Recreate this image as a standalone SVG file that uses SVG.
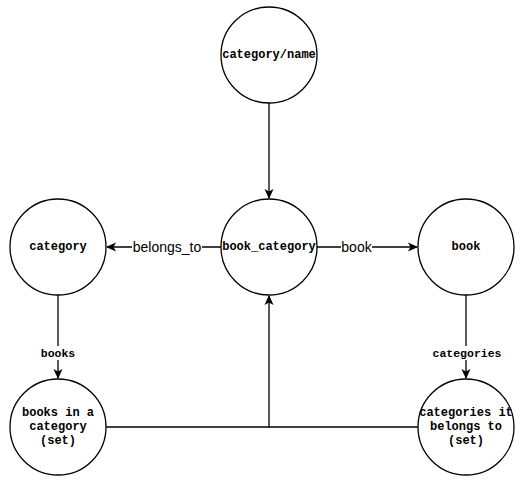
<svg xmlns="http://www.w3.org/2000/svg" width="523" height="485" viewBox="0 0 523 485">
<style>
.n{fill:#fff;stroke:#000;stroke-width:1.3}
.t{font-family:"Liberation Mono","Courier New",monospace;font-weight:bold;font-size:12px;text-anchor:middle;dominant-baseline:central;fill:#000}
.e{fill:none;stroke:#000;stroke-width:1.3}
.l{font-family:"Liberation Sans",Arial,sans-serif;font-size:14px;text-anchor:middle;dominant-baseline:central;fill:#000}
.lm{font-family:"Liberation Mono","Courier New",monospace;font-weight:bold;font-size:11.5px;text-anchor:middle;dominant-baseline:central;fill:#000}
.bg{fill:#fff}
</style>
<defs>
<marker id="a" viewBox="0 0 10 10" refX="9" refY="5" markerWidth="10" markerHeight="10" markerUnits="userSpaceOnUse" orient="auto">
<path d="M0,0.5 L10,5 L0,9.5 L2.5,5 Z" fill="#000"/>
</marker>
</defs>
<rect width="523" height="485" fill="#fff"/>
<g id="connectors">
<line class="e" x1="269" y1="103" x2="269" y2="198" marker-end="url(#a)"/>
<line class="e" x1="221" y1="247" x2="107" y2="247" marker-end="url(#a)"/>
<line class="e" x1="317" y1="247" x2="417" y2="247" marker-end="url(#a)"/>
<line class="e" x1="58" y1="295" x2="58" y2="378" marker-end="url(#a)"/>
<line class="e" x1="466" y1="295" x2="466" y2="378" marker-end="url(#a)"/>
<polyline class="e" points="106,427 269,427 269,296" marker-end="url(#a)"/>
<line class="e" x1="418" y1="427" x2="269" y2="427"/>
<rect class="bg" x="132" y="239" width="70" height="16"/>
<text class="l" x="167" y="247">belongs_to</text>
<rect class="bg" x="341" y="239" width="31" height="16"/>
<text class="l" x="356.5" y="247">book</text>
<rect class="bg" x="39" y="346" width="38" height="14"/>
<text class="lm" x="58" y="353">books</text>
<rect class="bg" x="431" y="346" width="72" height="14"/>
<text class="lm" x="467" y="353">categories</text>
</g>
<g id="category_name"><circle class="n" cx="269" cy="55" r="48"/><text class="t" x="269" y="55">category/name</text></g>
<g id="book_category"><circle class="n" cx="269" cy="247" r="48"/><text class="t" x="269" y="247">book_category</text></g>
<g id="category"><circle class="n" cx="58" cy="247" r="48"/><text class="t" x="58" y="247">category</text></g>
<g id="book"><circle class="n" cx="466" cy="247" r="48"/><text class="t" x="466" y="247">book</text></g>
<g id="books_in_category"><circle class="n" cx="58" cy="427" r="48"/><text class="t" x="58" y="413">books in a</text><text class="t" x="58" y="427">category</text><text class="t" x="58" y="441">(set)</text></g>
<g id="categories_it_belongs_to"><circle class="n" cx="466" cy="427" r="48"/><text class="t" x="466" y="413">categories it</text><text class="t" x="466" y="427">belongs to</text><text class="t" x="466" y="441">(set)</text></g>
</svg>
